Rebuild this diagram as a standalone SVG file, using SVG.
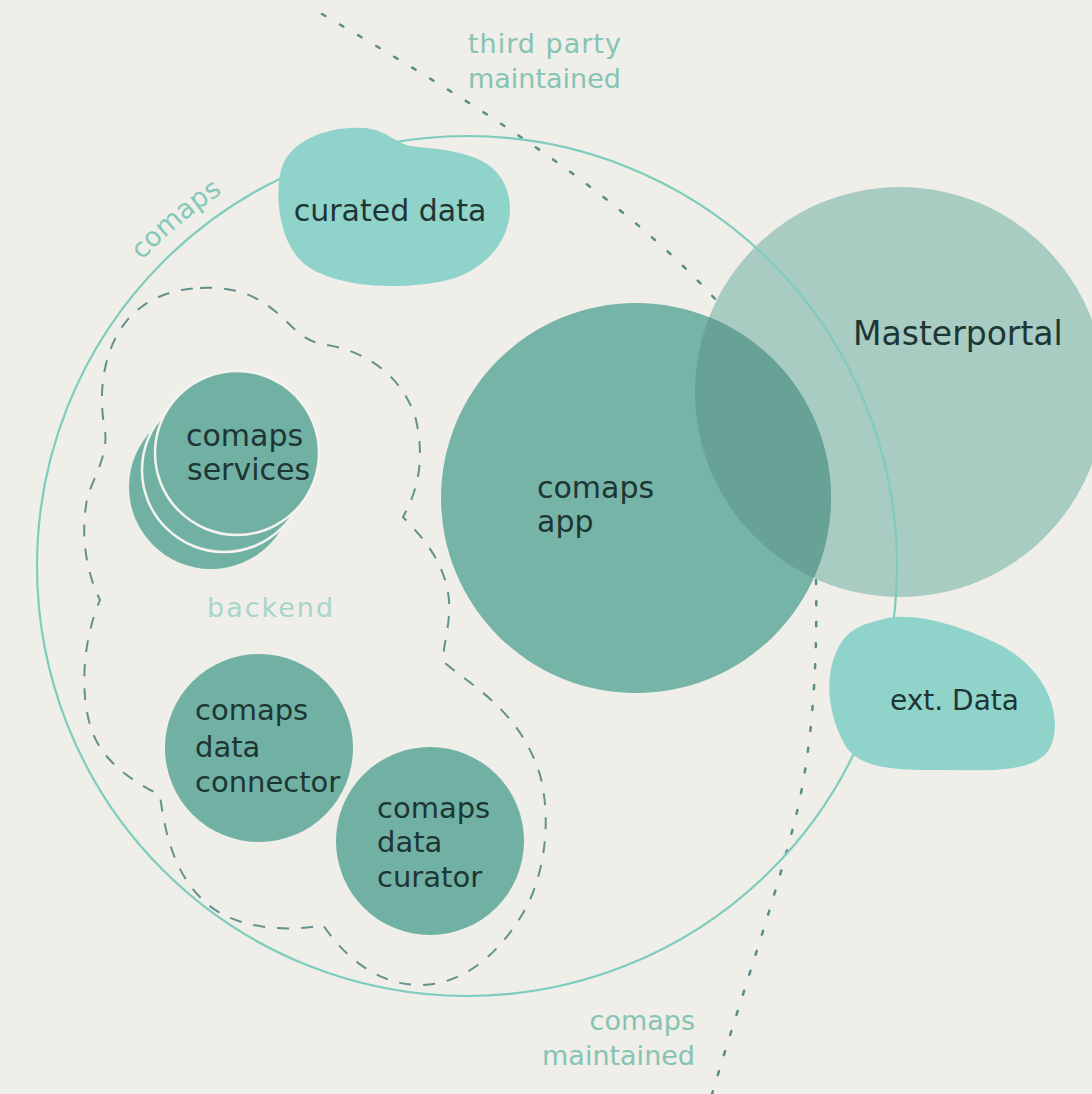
<svg xmlns="http://www.w3.org/2000/svg" xmlns:xlink="http://www.w3.org/1999/xlink" width="1092" height="1094" viewBox="0 0 1092 1094">
  <style>
    .lbl { font-family: "DejaVu Sans", "Noto Sans", sans-serif; fill: #1e3633; }
    .outer { font-family: "DejaVu Sans", "Noto Sans", sans-serif; font-size: 27px; fill: #86c3b4; }
    .node { fill: #70b1a4; }
    .blob { fill: #8fd3ca; }
    .dots { fill: none; stroke: #5b8c86; stroke-width: 2.5; stroke-dasharray: 4 17; stroke-linecap: round; }
    .dash { fill: none; stroke: #62928b; stroke-width: 2; stroke-dasharray: 12 12; }
    .ring { fill: none; stroke: #7dcdbe; stroke-width: 2.2; }
  </style>
  <defs>
    <clipPath id="mpClip"><circle cx="900" cy="392" r="205"/></clipPath>
    <path id="comapsArc" d="M47.9,413.5 A446,446 0 0,1 389.6,126.8"/>
  </defs>
  <rect x="0" y="0" width="1092" height="1094" fill="#efeee8"/>

  <g id="boundaries">
    <path class="dots" d="M322,14 C460,95 620,190 725,310"/>
    <path class="dots" d="M816,580 C818,680 810,760 795,820 C775,900 740,1000 712,1094"/>
    <path id="backend-outline" class="dash" d="M200,288 C240,286 262,298 285,320 C300,335 310,343 327,345 C370,352 405,380 416,420 C425,460 418,490 403,517 C420,535 445,560 449,600 C451,630 440,650 445,663 C470,685 520,710 540,775 C552,820 545,880 520,918 C495,958 460,985 420,985 C385,985 350,965 323,925 C290,932 235,930 205,902 C175,875 165,835 160,795 C130,780 100,760 90,725 C80,690 83,640 100,600 C85,570 80,530 88,495 C95,475 108,455 105,430 C95,380 110,330 140,308 C160,293 180,289 200,288 Z"/>
  </g>

  <g id="masterportal">
    <circle cx="900" cy="392" r="205" fill="#a8cbc2"/>
  </g>
  <g id="comaps-app">
    <circle cx="636" cy="498" r="195" fill="#77b4a8"/>
    <circle cx="636" cy="498" r="195" fill="#68a195" clip-path="url(#mpClip)"/>
  </g>

  <g id="comaps">
    <circle class="ring" cx="467" cy="566" r="430"/>
  </g>

  <g id="curated-data">
    <path class="blob" d="M280,175 C285,140 330,125 365,128 C385,130 395,142 410,146 C440,150 490,150 505,185 C520,220 500,262 455,278 C415,290 345,290 310,268 C280,250 275,200 280,175 Z"/>
    <text class="lbl" x="390" y="221" font-size="30" text-anchor="middle">curated data</text>
  </g>

  <g id="ext-data">
    <path class="blob" d="M880,620 C910,610 960,625 1000,645 C1045,668 1065,715 1050,748 C1035,775 980,770 940,770 C900,770 860,770 845,745 C828,715 825,680 835,655 C845,630 860,625 880,620 Z"/>
    <text class="lbl" x="890" y="710" font-size="28">ext. Data</text>
  </g>

  <g id="comaps-services">
    <circle class="node" cx="211" cy="487" r="82"/>
    <circle class="node" cx="224" cy="470" r="82" stroke="#f4f3ee" stroke-width="2.5"/>
    <circle class="node" cx="237" cy="453" r="82" stroke="#f4f3ee" stroke-width="2.5"/>
    <text class="lbl" x="186" y="446" font-size="30">comaps</text>
    <text class="lbl" x="187" y="480" font-size="30">services</text>
  </g>

  <g id="comaps-data-connector">
    <circle class="node" cx="259" cy="748" r="94"/>
    <text class="lbl" x="195" y="720" font-size="29">comaps</text>
    <text class="lbl" x="195" y="757" font-size="29">data</text>
    <text class="lbl" x="195" y="792" font-size="29">connector</text>
  </g>

  <g id="comaps-data-curator">
    <circle class="node" cx="430" cy="841" r="94"/>
    <text class="lbl" x="377" y="818" font-size="29">comaps</text>
    <text class="lbl" x="377" y="852" font-size="29">data</text>
    <text class="lbl" x="377" y="887" font-size="29">curator</text>
  </g>

  <g id="labels">
    <text class="lbl" x="537" y="498" font-size="30">comaps</text>
    <text class="lbl" x="537" y="532" font-size="30">app</text>
    <text class="lbl" x="853" y="345" font-size="33">Masterportal</text>
    <text class="outer" x="468" y="53" letter-spacing="1">third party</text>
    <text class="outer" x="468" y="88">maintained</text>
    <text class="outer" x="695" y="1030" text-anchor="end">comaps</text>
    <text class="outer" x="695" y="1065" text-anchor="end">maintained</text>
    <text class="outer" x="207" y="617" font-size="30" letter-spacing="2" style="fill:#a8d5ca">backend</text>
    <text class="outer" font-size="28" style="fill:#86c9b9"><textPath xlink:href="#comapsArc" href="#comapsArc" startOffset="50%" text-anchor="middle">comaps</textPath></text>
  </g>
</svg>
